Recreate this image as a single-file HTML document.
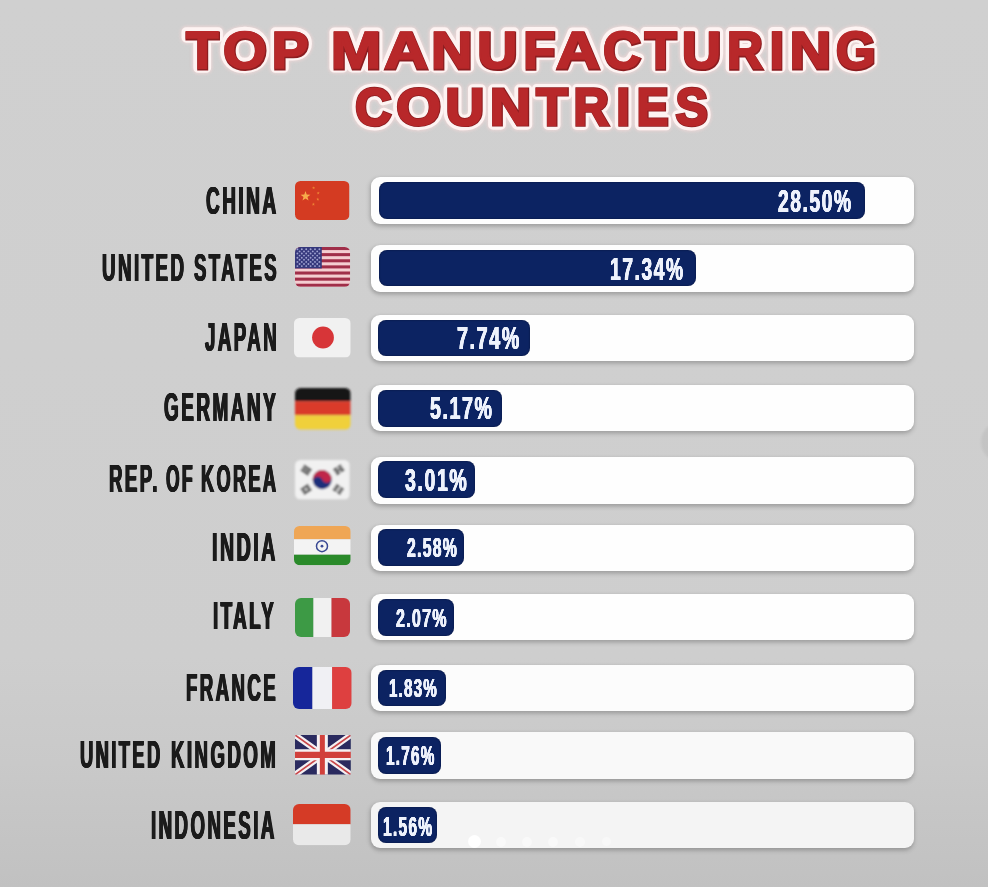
<!DOCTYPE html>
<html lang="en"><head><meta charset="utf-8"><title>Top Manufacturing Countries</title>
<style>
html,body{margin:0;padding:0}
html{overflow:hidden;background:#cfcfcf}
body{width:988px;height:887px;position:relative;overflow:hidden;font-family:"Liberation Sans",sans-serif;
background:linear-gradient(180deg,#d0d0d0 0%,#cfcfcf 40%,#cecece 74%,#c9c9c9 86%,#c1c1c1 100%);}
.t{position:absolute;font:bold 100px/100px "Liberation Sans",sans-serif;white-space:pre;transform-origin:0 0;display:block}
.lab{color:#1b1b1b;letter-spacing:13.0px;text-shadow:1.50px 0 0 #1b1b1b,-1.50px 0 0 #1b1b1b,3.00px 0 0 #1b1b1b,-3.00px 0 0 #1b1b1b;}
.pct{color:#eef2fc;letter-spacing:8.0px;text-shadow:0.70px 0 0 #eef2fc,-0.70px 0 0 #eef2fc,1.40px 0 0 #eef2fc,-1.40px 0 0 #eef2fc;}
.track{position:absolute;left:371.2px;width:542.5px;height:46.6px;border-radius:9px;background:#fdfdfd;box-shadow:0 2.5px 4px rgba(0,0,0,.17),-1.5px 1px 4px rgba(0,0,0,.10)}
.bar{position:absolute;left:378.8px;border-radius:8px;background:#0c2362;box-shadow:inset 0 0 2px rgba(0,0,20,.5)}
.lab{filter:blur(.45px)}
.pct{filter:blur(.4px)}
.track,.bar{filter:blur(.4px)}
.flag{position:absolute;overflow:visible}
.title{position:absolute;left:0;top:0;overflow:visible;filter:blur(.45px)}
.title text{vector-effect:non-scaling-stroke}
.nav{position:absolute;left:980.5px;top:422px;width:40px;height:40px;border-radius:50%;background:rgba(0,0,0,.05);filter:blur(1px)}
.dot{position:absolute;border-radius:50%;background:#fff}
</style></head>
<body>
<svg class="title" width="988" height="150" viewBox="0 0 988 150"><defs><filter id="tb" x="-5%" y="-20%" width="110%" height="140%"><feGaussianBlur stdDeviation="1.4"/></filter></defs><g font-family="Liberation Sans, sans-serif" font-weight="bold" font-size="100" stroke-linejoin="round" style="vector-effect:non-scaling-stroke">
<g filter="url(#tb)" opacity=".65"><g fill="#f7d8d8" stroke="#f7d8d8" stroke-width="12.100000000000001" stroke-linejoin="round"><text transform="translate(186.12,68.45) scale(0.5305,0.5130)">T</text><text transform="translate(223.10,68.45) scale(0.5614,0.5130)">O</text><text transform="translate(271.90,68.45) scale(0.5500,0.5130)">P</text><text transform="translate(330.82,68.45) scale(0.6043,0.5130)">M</text><text transform="translate(384.24,68.45) scale(0.6045,0.5130)">A</text><text transform="translate(431.14,68.45) scale(0.5724,0.5130)">N</text><text transform="translate(477.32,68.45) scale(0.5550,0.5130)">U</text><text transform="translate(523.31,68.45) scale(0.5200,0.5130)">F</text><text transform="translate(556.14,68.45) scale(0.6045,0.5130)">A</text><text transform="translate(603.06,68.45) scale(0.5215,0.5130)">C</text><text transform="translate(644.73,68.45) scale(0.5153,0.5130)">T</text><text transform="translate(681.88,68.45) scale(0.5450,0.5130)">U</text><text transform="translate(727.22,68.45) scale(0.4905,0.5130)">R</text><text transform="translate(769.70,68.45) scale(0.5071,0.5130)">I</text><text transform="translate(789.64,68.45) scale(0.5724,0.5130)">N</text><text transform="translate(835.81,68.45) scale(0.5103,0.5130)">G</text><text transform="translate(354.94,124.75) scale(0.5031,0.5130)">C</text><text transform="translate(395.93,124.75) scale(0.5800,0.5130)">O</text><text transform="translate(445.45,124.75) scale(0.5333,0.5130)">U</text><text transform="translate(489.54,124.75) scale(0.5724,0.5130)">N</text><text transform="translate(536.14,124.75) scale(0.5119,0.5130)">T</text><text transform="translate(573.43,124.75) scale(0.4889,0.5130)">R</text><text transform="translate(616.40,124.75) scale(0.4786,0.5130)">I</text><text transform="translate(636.62,124.75) scale(0.4750,0.5130)">E</text><text transform="translate(675.50,124.75) scale(0.4833,0.5130)">S</text></g></g>
<g fill="#fdf3f2" stroke="#fdf3f2" stroke-width="9.899999999999999" stroke-linejoin="round"><text transform="translate(186.12,68.45) scale(0.5305,0.5130)">T</text><text transform="translate(223.10,68.45) scale(0.5614,0.5130)">O</text><text transform="translate(271.90,68.45) scale(0.5500,0.5130)">P</text><text transform="translate(330.82,68.45) scale(0.6043,0.5130)">M</text><text transform="translate(384.24,68.45) scale(0.6045,0.5130)">A</text><text transform="translate(431.14,68.45) scale(0.5724,0.5130)">N</text><text transform="translate(477.32,68.45) scale(0.5550,0.5130)">U</text><text transform="translate(523.31,68.45) scale(0.5200,0.5130)">F</text><text transform="translate(556.14,68.45) scale(0.6045,0.5130)">A</text><text transform="translate(603.06,68.45) scale(0.5215,0.5130)">C</text><text transform="translate(644.73,68.45) scale(0.5153,0.5130)">T</text><text transform="translate(681.88,68.45) scale(0.5450,0.5130)">U</text><text transform="translate(727.22,68.45) scale(0.4905,0.5130)">R</text><text transform="translate(769.70,68.45) scale(0.5071,0.5130)">I</text><text transform="translate(789.64,68.45) scale(0.5724,0.5130)">N</text><text transform="translate(835.81,68.45) scale(0.5103,0.5130)">G</text><text transform="translate(354.94,124.75) scale(0.5031,0.5130)">C</text><text transform="translate(395.93,124.75) scale(0.5800,0.5130)">O</text><text transform="translate(445.45,124.75) scale(0.5333,0.5130)">U</text><text transform="translate(489.54,124.75) scale(0.5724,0.5130)">N</text><text transform="translate(536.14,124.75) scale(0.5119,0.5130)">T</text><text transform="translate(573.43,124.75) scale(0.4889,0.5130)">R</text><text transform="translate(616.40,124.75) scale(0.4786,0.5130)">I</text><text transform="translate(636.62,124.75) scale(0.4750,0.5130)">E</text><text transform="translate(675.50,124.75) scale(0.4833,0.5130)">S</text></g>
<g fill="#8c1d20" stroke="#8c1d20" stroke-width="3.3" stroke-linejoin="miter"><text transform="translate(186.47,68.85) scale(0.5305,0.5130)">T</text><text transform="translate(223.45,68.85) scale(0.5614,0.5130)">O</text><text transform="translate(272.25,68.85) scale(0.5500,0.5130)">P</text><text transform="translate(331.17,68.85) scale(0.6043,0.5130)">M</text><text transform="translate(384.59,68.85) scale(0.6045,0.5130)">A</text><text transform="translate(431.49,68.85) scale(0.5724,0.5130)">N</text><text transform="translate(477.67,68.85) scale(0.5550,0.5130)">U</text><text transform="translate(523.66,68.85) scale(0.5200,0.5130)">F</text><text transform="translate(556.49,68.85) scale(0.6045,0.5130)">A</text><text transform="translate(603.41,68.85) scale(0.5215,0.5130)">C</text><text transform="translate(645.08,68.85) scale(0.5153,0.5130)">T</text><text transform="translate(682.23,68.85) scale(0.5450,0.5130)">U</text><text transform="translate(727.57,68.85) scale(0.4905,0.5130)">R</text><text transform="translate(770.05,68.85) scale(0.5071,0.5130)">I</text><text transform="translate(789.99,68.85) scale(0.5724,0.5130)">N</text><text transform="translate(836.16,68.85) scale(0.5103,0.5130)">G</text><text transform="translate(355.29,125.15) scale(0.5031,0.5130)">C</text><text transform="translate(396.28,125.15) scale(0.5800,0.5130)">O</text><text transform="translate(445.80,125.15) scale(0.5333,0.5130)">U</text><text transform="translate(489.89,125.15) scale(0.5724,0.5130)">N</text><text transform="translate(536.49,125.15) scale(0.5119,0.5130)">T</text><text transform="translate(573.78,125.15) scale(0.4889,0.5130)">R</text><text transform="translate(616.75,125.15) scale(0.4786,0.5130)">I</text><text transform="translate(636.97,125.15) scale(0.4750,0.5130)">E</text><text transform="translate(675.85,125.15) scale(0.4833,0.5130)">S</text></g>
<g fill="#b8282a" stroke="#b8282a" stroke-width="1.7999999999999998" stroke-linejoin="miter"><text transform="translate(186.07,68.35) scale(0.5305,0.5130)">T</text><text transform="translate(223.05,68.35) scale(0.5614,0.5130)">O</text><text transform="translate(271.85,68.35) scale(0.5500,0.5130)">P</text><text transform="translate(330.77,68.35) scale(0.6043,0.5130)">M</text><text transform="translate(384.19,68.35) scale(0.6045,0.5130)">A</text><text transform="translate(431.09,68.35) scale(0.5724,0.5130)">N</text><text transform="translate(477.27,68.35) scale(0.5550,0.5130)">U</text><text transform="translate(523.26,68.35) scale(0.5200,0.5130)">F</text><text transform="translate(556.09,68.35) scale(0.6045,0.5130)">A</text><text transform="translate(603.01,68.35) scale(0.5215,0.5130)">C</text><text transform="translate(644.68,68.35) scale(0.5153,0.5130)">T</text><text transform="translate(681.83,68.35) scale(0.5450,0.5130)">U</text><text transform="translate(727.17,68.35) scale(0.4905,0.5130)">R</text><text transform="translate(769.65,68.35) scale(0.5071,0.5130)">I</text><text transform="translate(789.59,68.35) scale(0.5724,0.5130)">N</text><text transform="translate(835.76,68.35) scale(0.5103,0.5130)">G</text><text transform="translate(354.89,124.65) scale(0.5031,0.5130)">C</text><text transform="translate(395.88,124.65) scale(0.5800,0.5130)">O</text><text transform="translate(445.40,124.65) scale(0.5333,0.5130)">U</text><text transform="translate(489.49,124.65) scale(0.5724,0.5130)">N</text><text transform="translate(536.09,124.65) scale(0.5119,0.5130)">T</text><text transform="translate(573.38,124.65) scale(0.4889,0.5130)">R</text><text transform="translate(616.35,124.65) scale(0.4786,0.5130)">I</text><text transform="translate(636.57,124.65) scale(0.4750,0.5130)">E</text><text transform="translate(675.45,124.65) scale(0.4833,0.5130)">S</text></g>
</g></svg>
<div class="row">
<span class="t lab" style="left:206.06px;top:181.24px;transform:scale(0.1902,0.3913);">CHINA</span>
<svg class="flag" style="left:295.00px;top:180.70px" width="54.50" height="39.10" viewBox="0 0 54.50 39.10"><defs><clipPath id="c0"><rect x="0" y="0" width="54.50" height="39.10" rx="5.5" ry="5.5"/></clipPath><filter id="b0" x="-10%" y="-10%" width="120%" height="120%"><feGaussianBlur stdDeviation="0.7"/></filter></defs><g filter="url(#b0)"><g clip-path="url(#c0)"><rect width="54.5" height="39.10000000000002" fill="#d43a20"/><polygon points="10.50,10.10 11.72,13.62 15.45,13.69 12.48,15.94 13.56,19.51 10.50,17.38 7.44,19.51 8.52,15.94 5.55,13.69 9.28,13.62" fill="#f7ab4c"/><polygon points="18.60,5.20 19.00,6.35 20.22,6.37 19.25,7.11 19.60,8.28 18.60,7.58 17.60,8.28 17.95,7.11 16.98,6.37 18.20,6.35" fill="#ec8236"/><polygon points="23.20,10.40 23.60,11.55 24.82,11.57 23.85,12.31 24.20,13.48 23.20,12.78 22.20,13.48 22.55,12.31 21.58,11.57 22.80,11.55" fill="#ec8236"/><polygon points="22.80,16.60 23.20,17.75 24.42,17.77 23.45,18.51 23.80,19.68 22.80,18.98 21.80,19.68 22.15,18.51 21.18,17.77 22.40,17.75" fill="#ec8236"/><polygon points="18.40,21.60 18.80,22.75 20.02,22.77 19.05,23.51 19.40,24.68 18.40,23.98 17.40,24.68 17.75,23.51 16.78,22.77 18.00,22.75" fill="#ec8236"/></g></g></svg>
<div class="track" style="top:177.00px;background:#fefefe"></div>
<div class="bar" style="left:379.1px;top:182.00px;height:36.75px;width:485.90px"></div>
<span class="t pct" style="left:778.11px;top:184.65px;transform:scale(0.1928,0.3217);">28.50%</span>
</div>
<div class="row">
<span class="t lab" style="left:101.94px;top:248.30px;transform:scale(0.1876,0.3877);">UNITED</span>
<span class="t lab" style="left:193.75px;top:248.30px;transform:scale(0.1858,0.3877);">STATES</span>
<svg class="flag" style="left:294.80px;top:247.00px" width="55.20" height="39.80" viewBox="0 0 55.20 39.80"><defs><clipPath id="c1"><rect x="0" y="0" width="55.20" height="39.80" rx="5.5" ry="5.5"/></clipPath><filter id="b1" x="-10%" y="-10%" width="120%" height="120%"><feGaussianBlur stdDeviation="0.7"/></filter></defs><g filter="url(#b1)"><g clip-path="url(#c1)"><rect width="55.19999999999999" height="39.80000000000001" fill="#f4cdd1"/><rect x="0" y="0.00" width="55.19999999999999" height="3.06" fill="#a02e48"/><rect x="0" y="6.12" width="55.19999999999999" height="3.06" fill="#a02e48"/><rect x="0" y="12.25" width="55.19999999999999" height="3.06" fill="#a02e48"/><rect x="0" y="18.37" width="55.19999999999999" height="3.06" fill="#a02e48"/><rect x="0" y="24.49" width="55.19999999999999" height="3.06" fill="#a02e48"/><rect x="0" y="30.62" width="55.19999999999999" height="3.06" fill="#a02e48"/><rect x="0" y="36.74" width="55.19999999999999" height="3.06" fill="#a02e48"/><rect x="0" y="0" width="26.8" height="21.43" fill="#35377c"/><circle cx="2.40" cy="2.30" r="0.95" fill="#9fa2d0"/><circle cx="6.80" cy="2.30" r="0.95" fill="#9fa2d0"/><circle cx="11.20" cy="2.30" r="0.95" fill="#9fa2d0"/><circle cx="15.60" cy="2.30" r="0.95" fill="#9fa2d0"/><circle cx="20.00" cy="2.30" r="0.95" fill="#9fa2d0"/><circle cx="24.40" cy="2.30" r="0.95" fill="#9fa2d0"/><circle cx="2.40" cy="6.50" r="0.95" fill="#9fa2d0"/><circle cx="6.80" cy="6.50" r="0.95" fill="#9fa2d0"/><circle cx="11.20" cy="6.50" r="0.95" fill="#9fa2d0"/><circle cx="15.60" cy="6.50" r="0.95" fill="#9fa2d0"/><circle cx="20.00" cy="6.50" r="0.95" fill="#9fa2d0"/><circle cx="24.40" cy="6.50" r="0.95" fill="#9fa2d0"/><circle cx="2.40" cy="10.70" r="0.95" fill="#9fa2d0"/><circle cx="6.80" cy="10.70" r="0.95" fill="#9fa2d0"/><circle cx="11.20" cy="10.70" r="0.95" fill="#9fa2d0"/><circle cx="15.60" cy="10.70" r="0.95" fill="#9fa2d0"/><circle cx="20.00" cy="10.70" r="0.95" fill="#9fa2d0"/><circle cx="24.40" cy="10.70" r="0.95" fill="#9fa2d0"/><circle cx="2.40" cy="14.90" r="0.95" fill="#9fa2d0"/><circle cx="6.80" cy="14.90" r="0.95" fill="#9fa2d0"/><circle cx="11.20" cy="14.90" r="0.95" fill="#9fa2d0"/><circle cx="15.60" cy="14.90" r="0.95" fill="#9fa2d0"/><circle cx="20.00" cy="14.90" r="0.95" fill="#9fa2d0"/><circle cx="24.40" cy="14.90" r="0.95" fill="#9fa2d0"/><circle cx="2.40" cy="19.10" r="0.95" fill="#9fa2d0"/><circle cx="6.80" cy="19.10" r="0.95" fill="#9fa2d0"/><circle cx="11.20" cy="19.10" r="0.95" fill="#9fa2d0"/><circle cx="15.60" cy="19.10" r="0.95" fill="#9fa2d0"/><circle cx="20.00" cy="19.10" r="0.95" fill="#9fa2d0"/><circle cx="24.40" cy="19.10" r="0.95" fill="#9fa2d0"/><circle cx="4.60" cy="4.40" r="0.95" fill="#9fa2d0"/><circle cx="9.00" cy="4.40" r="0.95" fill="#9fa2d0"/><circle cx="13.40" cy="4.40" r="0.95" fill="#9fa2d0"/><circle cx="17.80" cy="4.40" r="0.95" fill="#9fa2d0"/><circle cx="22.20" cy="4.40" r="0.95" fill="#9fa2d0"/><circle cx="4.60" cy="8.60" r="0.95" fill="#9fa2d0"/><circle cx="9.00" cy="8.60" r="0.95" fill="#9fa2d0"/><circle cx="13.40" cy="8.60" r="0.95" fill="#9fa2d0"/><circle cx="17.80" cy="8.60" r="0.95" fill="#9fa2d0"/><circle cx="22.20" cy="8.60" r="0.95" fill="#9fa2d0"/><circle cx="4.60" cy="12.80" r="0.95" fill="#9fa2d0"/><circle cx="9.00" cy="12.80" r="0.95" fill="#9fa2d0"/><circle cx="13.40" cy="12.80" r="0.95" fill="#9fa2d0"/><circle cx="17.80" cy="12.80" r="0.95" fill="#9fa2d0"/><circle cx="22.20" cy="12.80" r="0.95" fill="#9fa2d0"/><circle cx="4.60" cy="17.00" r="0.95" fill="#9fa2d0"/><circle cx="9.00" cy="17.00" r="0.95" fill="#9fa2d0"/><circle cx="13.40" cy="17.00" r="0.95" fill="#9fa2d0"/><circle cx="17.80" cy="17.00" r="0.95" fill="#9fa2d0"/><circle cx="22.20" cy="17.00" r="0.95" fill="#9fa2d0"/></g></g></svg>
<div class="track" style="top:245.00px;background:#fefefe"></div>
<div class="bar" style="left:379.1px;top:250.30px;height:36.20px;width:317.15px"></div>
<span class="t pct" style="left:609.64px;top:252.72px;transform:scale(0.1928,0.3174);">17.34%</span>
</div>
<div class="row">
<span class="t lab" style="left:205.19px;top:317.37px;transform:scale(0.1870,0.3986);">JAPAN</span>
<svg class="flag" style="left:294.00px;top:317.70px" width="56.70" height="39.50" viewBox="0 0 56.70 39.50"><defs><clipPath id="c2"><rect x="0" y="0" width="56.70" height="39.50" rx="5.5" ry="5.5"/></clipPath><filter id="b2" x="-10%" y="-10%" width="120%" height="120%"><feGaussianBlur stdDeviation="0.7"/></filter></defs><g filter="url(#b2)"><g clip-path="url(#c2)"><rect width="56.69999999999999" height="39.5" fill="#f1f1f1"/><circle cx="29" cy="19.50" r="10.9" fill="#d73538"/></g></g></svg>
<div class="track" style="top:314.75px;background:#fefefe"></div>
<div class="bar" style="left:378.2px;top:320.00px;height:36.25px;width:151.80px"></div>
<span class="t pct" style="left:457.41px;top:322.40px;transform:scale(0.1977,0.3188);">7.74%</span>
</div>
<div class="row">
<span class="t lab" style="left:163.56px;top:387.37px;transform:scale(0.1897,0.3986);">GERMANY</span>
<svg class="flag" style="left:294.80px;top:387.50px" width="55.70" height="41.70" viewBox="0 0 55.70 41.70"><defs><clipPath id="c3"><rect x="0" y="0" width="55.70" height="41.70" rx="5.5" ry="5.5"/></clipPath><filter id="b3" x="-10%" y="-10%" width="120%" height="120%"><feGaussianBlur stdDeviation="0.85"/></filter></defs><g filter="url(#b3)"><g clip-path="url(#c3)"><rect y="0" width="55.69999999999999" height="13.30" fill="#171414"/><rect y="13.30" width="55.69999999999999" height="14.00" fill="#da3a2a"/><rect y="27.30" width="55.69999999999999" height="14.40" fill="#f0d03a"/></g></g></svg>
<div class="track" style="top:384.90px;background:#fefefe"></div>
<div class="bar" style="left:378.2px;top:389.50px;height:37.25px;width:124.30px"></div>
<span class="t pct" style="left:430.36px;top:393.01px;transform:scale(0.1963,0.3116);">5.17%</span>
</div>
<div class="row">
<span class="t lab" style="left:109.25px;top:458.74px;transform:scale(0.1865,0.3913);">REP.</span>
<span class="t lab" style="left:166.07px;top:458.74px;transform:scale(0.1750,0.3913);">OF</span>
<span class="t lab" style="left:201.27px;top:458.74px;transform:scale(0.1815,0.3913);">KOREA</span>
<svg class="flag" style="left:294.80px;top:460.00px" width="54.70" height="39.50" viewBox="0 0 54.70 39.50"><defs><clipPath id="c4"><rect x="0" y="0" width="54.70" height="39.50" rx="5.5" ry="5.5"/></clipPath><filter id="b4" x="-10%" y="-10%" width="120%" height="120%"><feGaussianBlur stdDeviation="0.8"/></filter></defs><g filter="url(#b4)"><g clip-path="url(#c4)"><rect width="54.69999999999999" height="39.5" fill="#f1f1f1"/><g transform="rotate(-20 27.20 19.60)"><circle cx="27.20" cy="19.60" r="9.6" fill="#1f2f7a"/><path d="M17.60,19.60 A9.6,9.6 0 0 1 36.80,19.60 A4.8,4.8 0 0 1 27.20,19.60 A4.8,4.8 0 0 0 17.60,19.60Z" fill="#c02649"/></g><g transform="translate(11.20 10.00) rotate(34)"><rect x="-4.6" y="-3.60" width="9.2" height="2.0" fill="#3c3c3c"/><rect x="-4.6" y="-0.90" width="9.2" height="2.0" fill="#3c3c3c"/><rect x="-4.6" y="1.80" width="9.2" height="2.0" fill="#3c3c3c"/></g><g transform="translate(43.80 9.70) rotate(-34)"><rect x="-4.6" y="-3.60" width="4" height="2.0" fill="#3c3c3c"/><rect x="0.6" y="-3.60" width="4" height="2.0" fill="#3c3c3c"/><rect x="-4.6" y="-0.90" width="9.2" height="2.0" fill="#3c3c3c"/><rect x="-4.6" y="1.80" width="4" height="2.0" fill="#3c3c3c"/><rect x="0.6" y="1.80" width="4" height="2.0" fill="#3c3c3c"/></g><g transform="translate(11.00 29.30) rotate(-34)"><rect x="-4.6" y="-3.60" width="9.2" height="2.0" fill="#3c3c3c"/><rect x="-4.6" y="-0.90" width="4" height="2.0" fill="#3c3c3c"/><rect x="0.6" y="-0.90" width="4" height="2.0" fill="#3c3c3c"/><rect x="-4.6" y="1.80" width="9.2" height="2.0" fill="#3c3c3c"/></g><g transform="translate(43.40 29.30) rotate(34)"><rect x="-4.6" y="-3.60" width="4" height="2.0" fill="#3c3c3c"/><rect x="0.6" y="-3.60" width="4" height="2.0" fill="#3c3c3c"/><rect x="-4.6" y="-0.90" width="4" height="2.0" fill="#3c3c3c"/><rect x="0.6" y="-0.90" width="4" height="2.0" fill="#3c3c3c"/><rect x="-4.6" y="1.80" width="4" height="2.0" fill="#3c3c3c"/><rect x="0.6" y="1.80" width="4" height="2.0" fill="#3c3c3c"/></g></g></g></svg>
<div class="track" style="top:457.00px;background:#fefefe"></div>
<div class="bar" style="left:378.2px;top:461.25px;height:36.75px;width:96.80px"></div>
<span class="t pct" style="left:404.80px;top:464.46px;transform:scale(0.1957,0.3152);">3.01%</span>
</div>
<div class="row">
<span class="t lab" style="left:212.22px;top:526.62px;transform:scale(0.1953,0.3986);">INDIA</span>
<svg class="flag" style="left:294.00px;top:526.00px" width="56.70" height="39.20" viewBox="0 0 56.70 39.20"><defs><clipPath id="c5"><rect x="0" y="0" width="56.70" height="39.20" rx="5.5" ry="5.5"/></clipPath><filter id="b5" x="-10%" y="-10%" width="120%" height="120%"><feGaussianBlur stdDeviation="0.75"/></filter></defs><g filter="url(#b5)"><g clip-path="url(#c5)"><rect y="0" width="56.69999999999999" height="13.30" fill="#efa654"/><rect y="13.30" width="56.69999999999999" height="15.40" fill="#f3f3f3"/><rect y="28.70" width="56.69999999999999" height="10.50" fill="#2c8a2c"/><circle cx="28" cy="20.20" r="5.5" fill="none" stroke="#3a4a94" stroke-width="1.5"/><circle cx="28" cy="20.20" r="1.4" fill="#3a4a94"/></g></g></svg>
<div class="track" style="top:524.50px;background:#fefefe"></div>
<div class="bar" style="left:378.2px;top:529.25px;height:37.00px;width:85.55px"></div>
<span class="t pct" style="left:406.68px;top:533.59px;transform:scale(0.1579,0.2754);">2.58%</span>
</div>
<div class="row">
<span class="t lab" style="left:213.35px;top:596.32px;transform:scale(0.1875,0.3928);">ITALY</span>
<svg class="flag" style="left:294.50px;top:597.70px" width="55.00" height="39.10" viewBox="0 0 55.00 39.10"><defs><clipPath id="c6"><rect x="0" y="0" width="55.00" height="39.10" rx="6" ry="6"/></clipPath><filter id="b6" x="-10%" y="-10%" width="120%" height="120%"><feGaussianBlur stdDeviation="0.75"/></filter></defs><g filter="url(#b6)"><g clip-path="url(#c6)"><rect x="0" width="18.50" height="39.09999999999991" fill="#3d9a45"/><rect x="18.50" width="18.00" height="39.09999999999991" fill="#f1f1f1"/><rect x="36.50" width="18.50" height="39.09999999999991" fill="#c8393e"/></g></g></svg>
<div class="track" style="top:593.90px;background:#fefefe"></div>
<div class="bar" style="left:378.2px;top:598.75px;height:36.75px;width:75.55px"></div>
<span class="t pct" style="left:395.93px;top:605.33px;transform:scale(0.1603,0.2609);">2.07%</span>
</div>
<div class="row">
<span class="t lab" style="left:185.66px;top:667.76px;transform:scale(0.1862,0.3841);">FRANCE</span>
<svg class="flag" style="left:292.70px;top:666.60px" width="58.70" height="42.10" viewBox="0 0 58.70 42.10"><defs><clipPath id="c7"><rect x="0" y="0" width="58.70" height="42.10" rx="6" ry="6"/></clipPath><filter id="b7" x="-10%" y="-10%" width="120%" height="120%"><feGaussianBlur stdDeviation="0.75"/></filter></defs><g filter="url(#b7)"><g clip-path="url(#c7)"><rect x="0" width="19.50" height="42.10000000000002" fill="#17289a"/><rect x="19.50" width="19.60" height="42.10000000000002" fill="#f0f0f4"/><rect x="39.10" width="19.60" height="42.10000000000002" fill="#de4040"/></g></g></svg>
<div class="track" style="top:664.50px;background:#fcfcfc"></div>
<div class="bar" style="left:378.2px;top:669.50px;height:36.75px;width:67.55px"></div>
<span class="t pct" style="left:388.74px;top:675.33px;transform:scale(0.1513,0.2609);">1.83%</span>
</div>
<div class="row">
<span class="t lab" style="left:80.25px;top:735.46px;transform:scale(0.1834,0.3841);">UNITED</span>
<span class="t lab" style="left:171.45px;top:735.46px;transform:scale(0.1868,0.3841);">KINGDOM</span>
<svg class="flag" style="left:294.50px;top:734.70px" width="55.90" height="39.70" viewBox="0 0 55.90 39.70"><defs><clipPath id="c8"><rect x="0" y="0" width="55.90" height="39.70" rx="1.5" ry="1.5"/></clipPath><filter id="b8" x="-10%" y="-10%" width="120%" height="120%"><feGaussianBlur stdDeviation="0.55"/></filter></defs><g filter="url(#b8)"><g clip-path="url(#c8)"><rect width="55.89999999999998" height="39.69999999999993" fill="#2a2c5e"/><path d="M0,0 L55.89999999999998,39.69999999999993 M55.89999999999998,0 L0,39.69999999999993" stroke="#f4f0f2" stroke-width="6"/><path d="M0,0 L55.89999999999998,39.69999999999993 M55.89999999999998,0 L0,39.69999999999993" stroke="#c9474a" stroke-width="1.7"/><path d="M27.35,0 V39.69999999999993 M0,19.85 H55.89999999999998" stroke="#f6f1f2" stroke-width="11"/><path d="M0,19.85 H55.89999999999998" stroke="#d1403a" stroke-width="6.2"/><path d="M27.35,0 V39.69999999999993" stroke="#d1403a" stroke-width="5"/></g></g></svg>
<div class="track" style="top:732.40px;background:#f9f9f9"></div>
<div class="bar" style="left:378.2px;top:736.75px;height:37.00px;width:63.05px"></div>
<span class="t pct" style="left:386.13px;top:742.16px;transform:scale(0.1534,0.2710);">1.76%</span>
</div>
<div class="row">
<span class="t lab" style="left:151.05px;top:804.65px;transform:scale(0.1870,0.3971);">INDONESIA</span>
<svg class="flag" style="left:292.70px;top:804.10px" width="57.70" height="41.30" viewBox="0 0 57.70 41.30"><defs><clipPath id="c9"><rect x="0" y="0" width="57.70" height="41.30" rx="6" ry="6"/></clipPath><filter id="b9" x="-10%" y="-10%" width="120%" height="120%"><feGaussianBlur stdDeviation="0.75"/></filter></defs><g filter="url(#b9)"><g clip-path="url(#c9)"><rect y="0" width="57.69999999999999" height="20.30" fill="#d53a28"/><rect y="20.30" width="57.69999999999999" height="21.00" fill="#e9e9e9"/></g></g></svg>
<div class="track" style="top:801.90px;background:#f4f4f4"></div>
<div class="bar" style="left:378.2px;top:807.20px;height:36.10px;width:59.20px"></div>
<span class="t pct" style="left:382.52px;top:812.61px;transform:scale(0.1557,0.2681);">1.56%</span>
</div>
<div class="nav"></div>
<div class="dot" style="left:468.1px;top:835.1px;width:13.0px;height:13.0px;opacity:0.95"></div>
<div class="dot" style="left:496.1px;top:836.6px;width:10px;height:10px;opacity:0.45"></div>
<div class="dot" style="left:521.9px;top:836.6px;width:10px;height:10px;opacity:0.45"></div>
<div class="dot" style="left:547.7px;top:836.6px;width:10px;height:10px;opacity:0.45"></div>
<div class="dot" style="left:574.5px;top:836.6px;width:10px;height:10px;opacity:0.4"></div>
<div class="dot" style="left:601.5px;top:837.1px;width:9.0px;height:9.0px;opacity:0.35"></div>
</body></html>
